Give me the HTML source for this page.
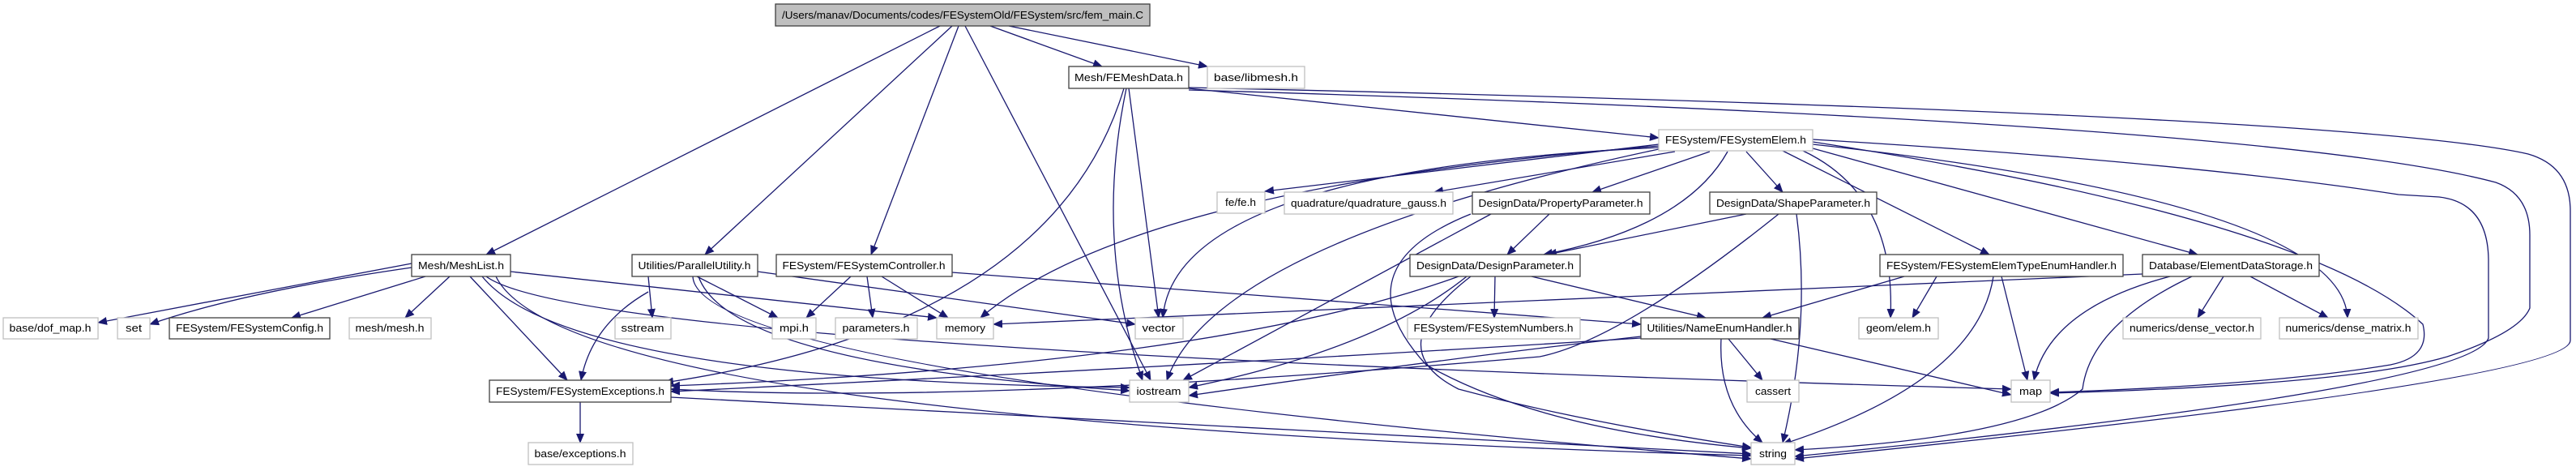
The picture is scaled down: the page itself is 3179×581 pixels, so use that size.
<!DOCTYPE html>
<html><head><meta charset="utf-8"><style>
html,body{margin:0;padding:0;background:#fff;}
svg{display:block;}
text{font-family:"Liberation Sans",sans-serif;font-size:12.5px;fill:#000;text-anchor:middle;}
.e{fill:none;stroke:#191970;stroke-width:1.3;marker-end:url(#a);}
.d{fill:#fff;stroke:#404040;stroke-width:1.3;}
.g{fill:#fff;stroke:#bfbfbf;stroke-width:1.3;}
</style></head><body>
<svg width="3179" height="581" viewBox="0 0 3179 581" xmlns="http://www.w3.org/2000/svg">
<defs><marker id="a" markerWidth="12" markerHeight="10" refX="11" refY="5" orient="auto" markerUnits="userSpaceOnUse"><path d="M0,0 L12,5 L0,10 z" fill="#191970"/></marker></defs>
<g>
<path class="e" d="M1160,32 L600,314"/>
<path class="e" d="M1175,32 L870,314"/>
<path class="e" d="M1183,32 L1075,314"/>
<path class="e" d="M1191,32 L1420,469"/>
<path class="e" d="M1222,32 L1360,82"/>
<path class="e" d="M1245,32 L1490,82"/>
<path class="e" d="M1387,109 Q1300,400 820,472"/>
<path class="e" d="M1393,109 L1430,392"/>
<path class="e" d="M1390,109 Q1350,300 1410,469"/>
<path class="e" d="M1467,109 L2047,170"/>
<path class="e" d="M1467,111 Q2800,150 3080,225 Q3122,240 3122,290 L3122,380 Q3110,410 3020,440 Q2900,475 2530,485"/>
<path class="e" d="M1467,108 Q2900,140 3120,190 Q3172,205 3172,260 L3172,420 Q3172,470 2215,566"/>
<path class="e" d="M508,325 L121,398"/>
<path class="e" d="M508,330 Q300,360 185,400"/>
<path class="e" d="M525,341 L360,392"/>
<path class="e" d="M555,341 L500,392"/>
<path class="e" d="M580,341 L700,469"/>
<path class="e" d="M595,341 Q700,470 1394,478"/>
<path class="e" d="M600,341 Q720,430 2482,480"/>
<path class="e" d="M630,335 L1156,392"/>
<path class="e" d="M612,341 Q700,520 2161,562"/>
<path class="e" d="M800,341 L805,392"/>
<path class="e" d="M860,341 L960,392"/>
<path class="e" d="M935,335 L1401,400"/>
<path class="e" d="M800,360 Q730,400 717,469"/>
<path class="e" d="M862,341 Q900,450 1394,482"/>
<path class="e" d="M855,341 Q860,460 2161,566"/>
<path class="e" d="M1050,341 L995,392"/>
<path class="e" d="M1070,341 L1077,392"/>
<path class="e" d="M1088,341 L1170,392"/>
<path class="e" d="M1175,336 L2025,400"/>
<path class="e" d="M2047,178 L1561,236"/>
<path class="e" d="M2067,187 L1770,237"/>
<path class="e" d="M2110,187 L1965,237"/>
<path class="e" d="M2155,187 L2200,237"/>
<path class="e" d="M2132,187 Q2080,280 1905,314"/>
<path class="e" d="M2047,180 Q1400,230 1210,392"/>
<path class="e" d="M2047,182 Q1450,210 1435,392"/>
<path class="e" d="M2047,184 Q1500,300 1440,469"/>
<path class="e" d="M2200,186 L2455,314"/>
<path class="e" d="M2237,183 L2712,314"/>
<path class="e" d="M2225,186 Q2340,240 2333,392"/>
<path class="e" d="M2237,178 Q2890,250 2897,392"/>
<path class="e" d="M2237,175 Q2850,270 2990,400 Q3000,440 2950,450 Q2800,475 2530,484"/>
<path class="e" d="M2237,172 Q2700,200 2960,240 L3010,243 Q3070,250 3071,320 L3071,417 Q3050,480 2215,563"/>
<path class="e" d="M1912,264 L1860,314"/>
<path class="e" d="M1840,264 L1460,469"/>
<path class="e" d="M1815,264 Q1650,330 1760,450 Q1900,530 2161,553"/>
<path class="e" d="M2155,264 L1910,314"/>
<path class="e" d="M2195,264 Q2000,420 1900,440 Q1200,500 828,480"/>
<path class="e" d="M2217,264 Q2235,400 2200,546"/>
<path class="e" d="M1845,341 L1844,392"/>
<path class="e" d="M1890,341 L2105,392"/>
<path class="e" d="M1800,341 Q1500,450 828,476"/>
<path class="e" d="M1810,341 Q1700,430 1467,478"/>
<path class="e" d="M1815,341 Q1700,430 1800,480 Q1950,520 2161,552"/>
<path class="e" d="M2025,417 Q1500,450 828,483"/>
<path class="e" d="M2025,415 Q1800,440 1467,488"/>
<path class="e" d="M2133,418 L2175,469"/>
<path class="e" d="M2124,418 Q2120,500 2175,546"/>
<path class="e" d="M2185,418 L2482,487"/>
<path class="e" d="M2350,341 L2175,392"/>
<path class="e" d="M2390,341 L2360,392"/>
<path class="e" d="M2470,341 L2502,469"/>
<path class="e" d="M2460,341 Q2440,470 2200,548"/>
<path class="e" d="M2644,338 Q1700,380 1226,400"/>
<path class="e" d="M2678,341 Q2530,380 2510,469"/>
<path class="e" d="M2705,341 Q2580,400 2570,480 Q2500,540 2215,555"/>
<path class="e" d="M2744,341 L2712,392"/>
<path class="e" d="M2777,341 L2873,392"/>
<path class="e" d="M716,496 L716,546"/>
<path class="e" d="M828,490 L2161,560"/>
</g>
<g>
<rect x="957" y="5" width="462" height="27" fill="#bfbfbf" stroke="#404040" stroke-width="1.3"/>
<text x="1188" y="23" textLength="446" lengthAdjust="spacingAndGlyphs">/Users/manav/Documents/codes/FESystemOld/FESystem/src/fem_main.C</text>
<rect class="d" x="1319" y="82" width="148" height="27"/><text x="1393" y="100" textLength="134" lengthAdjust="spacingAndGlyphs">Mesh/FEMeshData.h</text>
<rect class="g" x="1490" y="82" width="120" height="27"/><text x="1550" y="100" textLength="104" lengthAdjust="spacingAndGlyphs">base/libmesh.h</text>
<rect class="g" x="2047" y="160" width="190" height="26"/><text x="2142" y="177" textLength="174" lengthAdjust="spacingAndGlyphs">FESystem/FESystemElem.h</text>
<rect class="g" x="1502" y="237" width="59" height="26"/><text x="1531" y="254" textLength="38" lengthAdjust="spacingAndGlyphs">fe/fe.h</text>
<rect class="g" x="1585" y="237" width="208" height="27"/><text x="1689" y="255" textLength="192" lengthAdjust="spacingAndGlyphs">quadrature/quadrature_gauss.h</text>
<rect class="d" x="1817" y="237" width="219" height="27"/><text x="1926" y="255" textLength="203" lengthAdjust="spacingAndGlyphs">DesignData/PropertyParameter.h</text>
<rect class="d" x="2110" y="237" width="206" height="27"/><text x="2213" y="255" textLength="190" lengthAdjust="spacingAndGlyphs">DesignData/ShapeParameter.h</text>
<rect class="d" x="508" y="314" width="122" height="27"/><text x="569" y="332" textLength="106" lengthAdjust="spacingAndGlyphs">Mesh/MeshList.h</text>
<rect class="d" x="780" y="314" width="155" height="27"/><text x="857" y="332" textLength="139" lengthAdjust="spacingAndGlyphs">Utilities/ParallelUtility.h</text>
<rect class="d" x="958" y="314" width="217" height="27"/><text x="1066" y="332" textLength="201" lengthAdjust="spacingAndGlyphs">FESystem/FESystemController.h</text>
<rect class="d" x="1740" y="314" width="210" height="27"/><text x="1845" y="332" textLength="194" lengthAdjust="spacingAndGlyphs">DesignData/DesignParameter.h</text>
<rect class="d" x="2320" y="314" width="300" height="27"/><text x="2470" y="332" textLength="284" lengthAdjust="spacingAndGlyphs">FESystem/FESystemElemTypeEnumHandler.h</text>
<rect class="d" x="2644" y="314" width="218" height="27"/><text x="2753" y="332" textLength="202" lengthAdjust="spacingAndGlyphs">Database/ElementDataStorage.h</text>
<rect class="g" x="4" y="392" width="117" height="26"/><text x="62" y="409" textLength="101" lengthAdjust="spacingAndGlyphs">base/dof_map.h</text>
<rect class="g" x="145" y="392" width="40" height="26"/><text x="165" y="409" textLength="20" lengthAdjust="spacingAndGlyphs">set</text>
<rect class="d" x="209" y="392" width="198" height="26"/><text x="308" y="409" textLength="182" lengthAdjust="spacingAndGlyphs">FESystem/FESystemConfig.h</text>
<rect class="g" x="431" y="392" width="101" height="26"/><text x="481" y="409" textLength="85" lengthAdjust="spacingAndGlyphs">mesh/mesh.h</text>
<rect class="g" x="759" y="392" width="69" height="26"/><text x="793" y="409" textLength="53" lengthAdjust="spacingAndGlyphs">sstream</text>
<rect class="g" x="953" y="392" width="54" height="26"/><text x="980" y="409" textLength="36" lengthAdjust="spacingAndGlyphs">mpi.h</text>
<rect class="g" x="1031" y="392" width="101" height="26"/><text x="1081" y="409" textLength="83" lengthAdjust="spacingAndGlyphs">parameters.h</text>
<rect class="g" x="1156" y="392" width="70" height="26"/><text x="1191" y="409" textLength="50" lengthAdjust="spacingAndGlyphs">memory</text>
<rect class="g" x="1401" y="392" width="59" height="26"/><text x="1430" y="409" textLength="41" lengthAdjust="spacingAndGlyphs">vector</text>
<rect class="g" x="1737" y="392" width="213" height="26"/><text x="1843" y="409" textLength="197" lengthAdjust="spacingAndGlyphs">FESystem/FESystemNumbers.h</text>
<rect class="d" x="2025" y="392" width="195" height="26"/><text x="2122" y="409" textLength="179" lengthAdjust="spacingAndGlyphs">Utilities/NameEnumHandler.h</text>
<rect class="g" x="2294" y="392" width="98" height="26"/><text x="2343" y="409" textLength="80" lengthAdjust="spacingAndGlyphs">geom/elem.h</text>
<rect class="g" x="2620" y="392" width="170" height="26"/><text x="2705" y="409" textLength="154" lengthAdjust="spacingAndGlyphs">numerics/dense_vector.h</text>
<rect class="g" x="2813" y="392" width="171" height="26"/><text x="2898" y="409" textLength="155" lengthAdjust="spacingAndGlyphs">numerics/dense_matrix.h</text>
<rect class="d" x="604" y="469" width="224" height="27"/><text x="716" y="487" textLength="208" lengthAdjust="spacingAndGlyphs">FESystem/FESystemExceptions.h</text>
<rect class="g" x="1394" y="469" width="73" height="27"/><text x="1430" y="487" textLength="55" lengthAdjust="spacingAndGlyphs">iostream</text>
<rect class="g" x="2156" y="469" width="64" height="27"/><text x="2188" y="487" textLength="44" lengthAdjust="spacingAndGlyphs">cassert</text>
<rect class="g" x="2482" y="469" width="48" height="27"/><text x="2506" y="487" textLength="28" lengthAdjust="spacingAndGlyphs">map</text>
<rect class="g" x="652" y="546" width="129" height="27"/><text x="716" y="564" textLength="113" lengthAdjust="spacingAndGlyphs">base/exceptions.h</text>
<rect class="g" x="2161" y="546" width="54" height="27"/><text x="2188" y="564" textLength="34" lengthAdjust="spacingAndGlyphs">string</text>
</g>
</svg>
</body></html>
